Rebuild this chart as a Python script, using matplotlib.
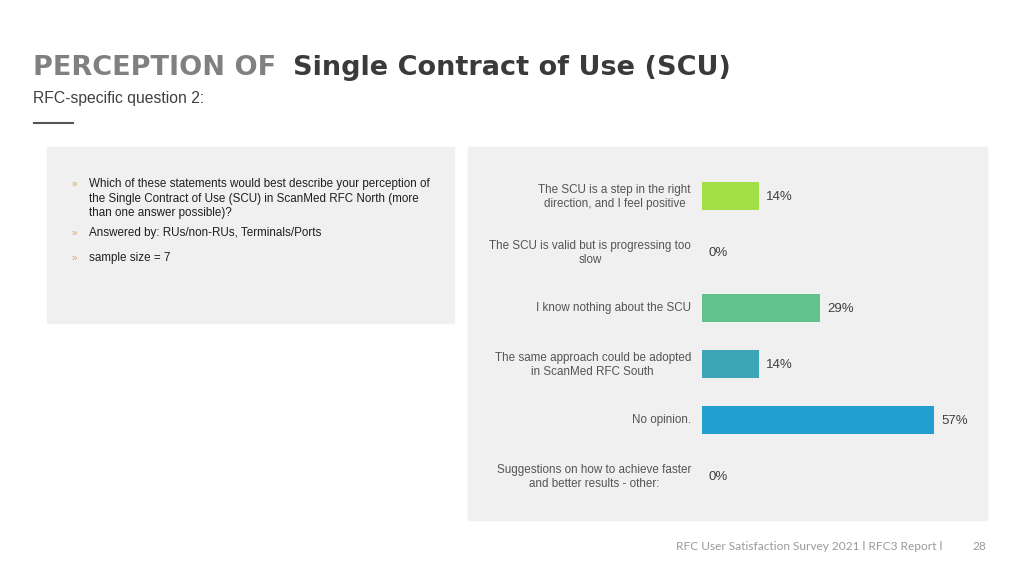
import matplotlib.pyplot as plt
import matplotlib.transforms as mtransforms
from matplotlib.patches import Rectangle

# answers and shares (%)
categories = [
    "The SCU is a step in the right\ndirection, and I feel positive",
    "The SCU is valid but is progressing too\nslow",
    "I know nothing about the SCU",
    "The same approach could be adopted\nin ScanMed RFC South",
    "No opinion.",
    "Suggestions on how to achieve faster\nand better results - other:",
]
shares = [14, 0, 29, 14, 57, 0]
bar_colors = ["#a3e048", "#85d26a", "#62c28d", "#3ca6b6", "#229ecf", "#2a7fc0"]

bullets = [
    "Which of these statements would best describe your perception of\n"
    "the Single Contract of Use (SCU) in ScanMed RFC North (more\n"
    "than one answer possible)?",
    "Answered by: RUs/non-RUs, Terminals/Ports",
    "sample size = 7",
]

W, H = 1024, 576


def fx(px):
    return px / W


def fy(py):
    return 1 - py / H


fig = plt.figure(figsize=(10.24, 5.76), dpi=100)
fig.patch.set_facecolor("white")

# grey panels
fig.patches.append(Rectangle((fx(47), fy(323)), fx(454) - fx(47), (323 - 147) / H,
                             transform=fig.transFigure, color="#f0f0f0", zorder=-1))
fig.patches.append(Rectangle((fx(468), fy(520)), fx(987) - fx(468), (520 - 147) / H,
                             transform=fig.transFigure, color="#f0f0f0", zorder=-1))

# title
fig.text(fx(33), fy(68), "PERCEPTION OF", fontsize=19.5, fontweight="bold",
         color="#808080", family="DejaVu Sans", va="center")
fig.text(fx(293), fy(68), "Single Contract of Use (SCU)", fontsize=19.5, fontweight="bold",
         color="#3a3a3a", family="DejaVu Sans", va="center")
fig.text(fx(33), fy(99), "RFC-specific question 2:", fontsize=11.3, color="#404040",
         family="Liberation Sans", va="center")
fig.add_artist(plt.Line2D([fx(34), fx(73)], [fy(123), fy(123)], transform=fig.transFigure,
                          color="#555555", lw=1.5))

# bullet block
bullet_y = [184, 233, 258]
for txt, by in zip(bullets, bullet_y):
    fig.text(fx(72), fy(by), "»", fontsize=7, color="#d9a35a", family="Liberation Sans",
             va="center")
    fig.text(fx(89), fy(by - 6), txt, fontsize=8.4, color="#202020", family="Liberation Sans",
             va="top", linespacing=1.3)

# bar chart
ax = fig.add_axes([fx(702), fy(504), fx(987) - fx(702), (504 - 168) / H])
ax.set_facecolor("none")
y = list(range(len(categories)))
ax.barh(y, shares, height=0.5, color=bar_colors)
ax.set_xlim(0, 70)
ax.set_ylim(len(categories) - 0.5, -0.5)
for sp in ax.spines.values():
    sp.set_visible(False)
ax.set_xticks([])
ax.set_yticks(y)
ax.set_yticklabels(categories, fontsize=8.4, color="#555555", family="Liberation Sans",
                   linespacing=1.25, multialignment="center")
ax.tick_params(axis="y", length=0, pad=8)
lift = mtransforms.ScaledTranslation(0, 2 / 100, fig.dpi_scale_trans)
for lbl in ax.get_yticklabels():
    lbl.set_transform(lbl.get_transform() + lift)
for yi, v in zip(y, shares):
    ax.annotate(f"{v}%", (v, yi), xytext=(5, -0.5), textcoords="offset points",
                va="center", ha="left", fontsize=9.5, color="#404040", family="Liberation Sans")

# footer
fig.text(fx(676), fy(546), "RFC User Satisfaction Survey 2021 l RFC3 Report l", fontsize=8.6,
         color="#9a9a9a", family="Lato", va="center")
fig.text(fx(972), fy(546), "28", fontsize=8.6, color="#9a9a9a", family="Lato", va="center")

fig.savefig("out.png", dpi=100, facecolor="white")
